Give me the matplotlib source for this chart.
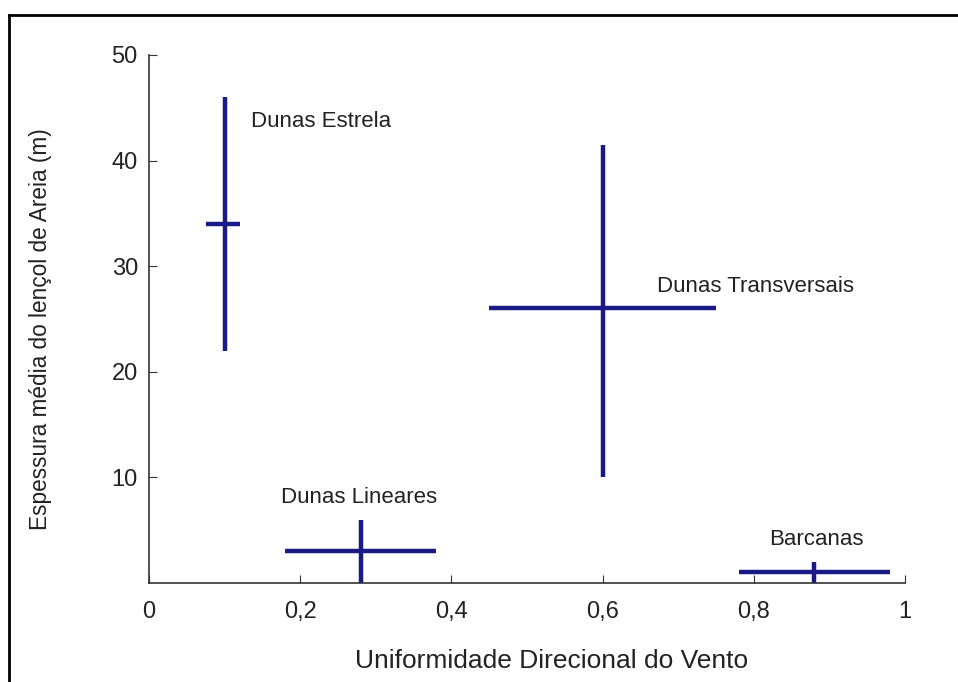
import numpy as np
import matplotlib
matplotlib.use('Agg')
import matplotlib.pyplot as plt
from matplotlib.lines import Line2D

# DATA
names = ['Dunas Estrela', 'Dunas Transversais', 'Dunas Lineares', 'Barcanas']
x_center = [0.10, 0.60, 0.28, 0.88]
x_low = [0.075, 0.45, 0.18, 0.78]
x_high = [0.12, 0.75, 0.38, 0.98]
y_center = [34, 26, 3, 1]
y_low = [22, 10, 0, 0]
y_high = [46, 41.5, 6, 2]
label_x = [0.135, 0.672, 0.175, 0.82]
label_y = [43.7, 28.1, 8.1, 4.1]

x_ticks = [0, 0.2, 0.4, 0.6, 0.8, 1]
x_ticklabels = ['0', '0,2', '0,4', '0,6', '0,8', '1']
y_ticks = [10, 20, 30, 40, 50]

plt.rcParams['font.family'] = ['Liberation Sans', 'DejaVu Sans']

fig = plt.figure(figsize=(9.58, 6.82), dpi=100)
ax = fig.add_axes([0.1555, 0.1452, 0.7892, 0.7742])

col = '#1a1a86'
for i in range(len(names)):
    ax.plot([x_low[i], x_high[i]], [y_center[i], y_center[i]], color=col, lw=3.2, solid_capstyle='butt')
    ax.plot([x_center[i], x_center[i]], [y_low[i], y_high[i]], color=col, lw=3.2, solid_capstyle='butt')
    ax.text(label_x[i], label_y[i], names[i], fontsize=16, color='#222222', va='center', ha='left')

ax.set_xlim(0, 1)
ax.set_ylim(0, 50)
ax.set_xticks(x_ticks)
ax.set_xticklabels(x_ticklabels)
ax.set_yticks(y_ticks)
ax.spines['top'].set_visible(False)
ax.spines['right'].set_visible(False)
for s in ['left', 'bottom']:
    ax.spines[s].set_color('#333333')
    ax.spines[s].set_linewidth(1.2)
ax.tick_params(direction='in', length=6, labelsize=17, colors='#333333', labelcolor='#222222')
ax.tick_params(axis='x', pad=13)
ax.tick_params(axis='y', pad=8)

ax.set_xlabel('Uniformidade Direcional do Vento', fontsize=19, color='#222222', va='baseline')
ax.set_ylabel('Espessura média do lençol de Areia (m)', fontsize=16.3, color='#222222', va='center')
ax.xaxis.set_label_coords(0.532, -0.161)
ax.yaxis.set_label_coords(-0.143, 0.481)

# frame around the picture (only top and left edges visible)
fig.add_artist(Line2D([9 / 958, 1], [1 - 15 / 682, 1 - 15 / 682], color='black', lw=2, transform=fig.transFigure))
fig.add_artist(Line2D([9 / 958, 9 / 958], [0, 1 - 15 / 682], color='black', lw=2, transform=fig.transFigure))

fig.savefig('out.png', dpi=100)
